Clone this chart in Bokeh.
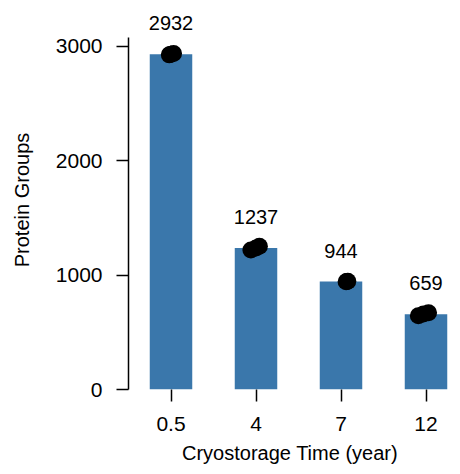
from bokeh.plotting import figure
from bokeh.models import Range1d, FixedTicker, ColumnDataSource, LinearAxis
from bokeh.embed import file_html
from bokeh.resources import INLINE
from bokeh.core.properties import value

# ---- data ----
categories = ["0.5", "4", "7", "12"]
means = [2932, 1237, 944, 659]
# replicate points (category index, jitter, value)
rep_cat = [0, 0, 0, 1, 1, 1, 2, 2, 2, 3, 3, 3]
rep_jitter = [-0.02, 0.0, 0.03, -0.06, 0.0, 0.04, 0.06, 0.07, 0.08, -0.09, -0.03, 0.03]
rep_vals = [2926, 2932, 2938, 1220, 1238, 1253, 942, 944, 946, 645, 660, 672]
y_ticks = [0, 1000, 2000, 3000]

FONT = "Liberation Sans"
BAR = "#3a77ab"

xs = list(range(len(categories)))
p = figure(width=452, height=466, output_backend="svg", toolbar_location=None,
           x_range=Range1d(-0.5, 3.3), y_range=Range1d(0, 3314),
           min_border_left=128, min_border_right=1, min_border_top=10, min_border_bottom=10,
           x_axis_location=None, y_axis_location=None)
p.grid.visible = False
p.outline_line_color = None
p.background_fill_color = "white"
p.border_fill_color = "white"

src = ColumnDataSource(dict(x=xs, top=means, label=[str(m) for m in means]))
p.vbar(x="x", top="top", width=0.5, source=src, fill_color=BAR, line_color=None)

px = [xs[c] + j for c, j in zip(rep_cat, rep_jitter)]
p.scatter(px, rep_vals, size=17, fill_color="black", line_color=None)

p.text(x="x", y="top", text="label", source=src, text_align="center", text_baseline="middle",
       y_offset=-31, text_font=value(FONT), text_font_size="20px", text_color="black")

def style(ax):
    ax.axis_label_text_font = FONT
    ax.axis_label_text_font_size = "20px"
    ax.axis_label_text_font_style = "normal"
    ax.axis_label_text_color = "black"
    ax.major_label_text_font = FONT
    ax.major_label_text_font_size = "21px"
    ax.major_label_text_color = "black"
    ax.major_tick_out = 12
    ax.major_tick_in = 0
    ax.minor_tick_out = 0
    ax.minor_tick_in = 0
    ax.axis_line_width = 1.5
    ax.axis_line_color = "black"
    ax.major_tick_line_width = 1.5
    ax.major_tick_line_color = "black"

yax = LinearAxis(bounds=(0, 3080), ticker=FixedTicker(ticks=y_ticks))
yax.axis_label = "Protein Groups"
style(yax)
yax.axis_label_standoff = 20
yax.major_label_standoff = 14
p.add_layout(yax, "left")

xax = LinearAxis(ticker=FixedTicker(ticks=xs),
                 major_label_overrides={i: c for i, c in zip(xs, categories)})
xax.axis_label = "Cryostorage Time (year)"
style(xax)
xax.axis_line_color = None
xax.axis_label_standoff = 8
xax.major_label_standoff = 15
p.add_layout(xax, "below")

open("out.html", "w").write(file_html(p, INLINE))
